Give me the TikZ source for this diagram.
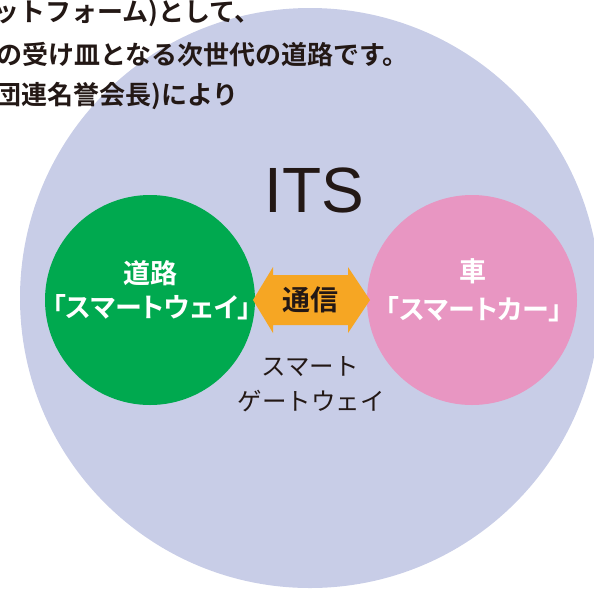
\documentclass[tikz,border=0pt]{standalone}
\usepackage{fontspec}
\newfontfamily\cjk{Noto Sans CJK JP}
\newfontfamily\cjkb{Noto Sans CJK JP Bold}
\newfontfamily\cjkbp{Noto Sans CJK JP Bold}[RawFeature=+palt]
\newfontfamily\lsans{Liberation Sans}
\definecolor{bigc}{RGB}{200,205,231}
\definecolor{roadgreen}{RGB}{0,169,79}
\definecolor{carpink}{RGB}{232,150,194}
\definecolor{commorange}{RGB}{246,166,35}
\definecolor{inkc}{RGB}{35,24,21}
\tikzset{
  disc/.style={circle, inner sep=0pt, minimum size=210pt},
  toptext/.style={anchor=west, inner sep=0pt, text=inkc, font=\cjkb\fontsize{26}{30}\selectfont},
  circlabel/.style={inner sep=0pt, text=white, font=\cjkbp\fontsize{27}{30}\selectfont},
  graylabel/.style={inner sep=0pt, text=inkc, font=\cjk\fontsize{24.5}{30}\selectfont}
}
\begin{document}
\begin{tikzpicture}[x=1pt,y=-1pt]
\useasboundingbox (0,0) rectangle (594,590);
% big ITS circle
\fill[bigc] (310,298) circle[radius=290pt];
% top text (cut off at the left edge, as in the reference)
\node[toptext] (t1) at (-7,13) {ットフォーム)として、};
\node[toptext] (t2) at (-4,55) {の受け皿となる次世代の道路です。};
\node[toptext] (t3) at (-5,96) {団連名誉会長)により};
\node[inner sep=0pt, text=inkc, font=\lsans\fontsize{64}{70}\selectfont] (its) at (314,190) {ITS};
% road and car circles
\node[disc, fill=roadgreen] (road) at (150,300) {};
\node[disc, fill=carpink] (car) at (472,300) {};
\node[circlabel] (roadA) at (150,273) {道路};
\node[circlabel] (roadB) at (152,307) {「スマートウェイ」};
\node[circlabel] (carA) at (473,271) {車};
\node[circlabel] (carB) at (474,309) {「スマートカー」};
% communication double arrow
\coordinate (lt) at (253,300);
\coordinate (rt) at (370,300);
\fill[commorange] (lt) -- (273,267) -- (273,275) -- (348,275) -- (348,267) -- (rt)
  -- (348,333) -- (348,325) -- (273,325) -- (273,333) -- cycle;
\node[inner sep=0pt, text=inkc, font=\cjkb\fontsize{28}{32}\selectfont] (comm) at (310,300) {通信};
% smart gateway
\node[graylabel] (sg1) at (310,367) {スマート};
\node[graylabel] (sg2) at (311,401) {ゲートウェイ};
\end{tikzpicture}
\end{document}
